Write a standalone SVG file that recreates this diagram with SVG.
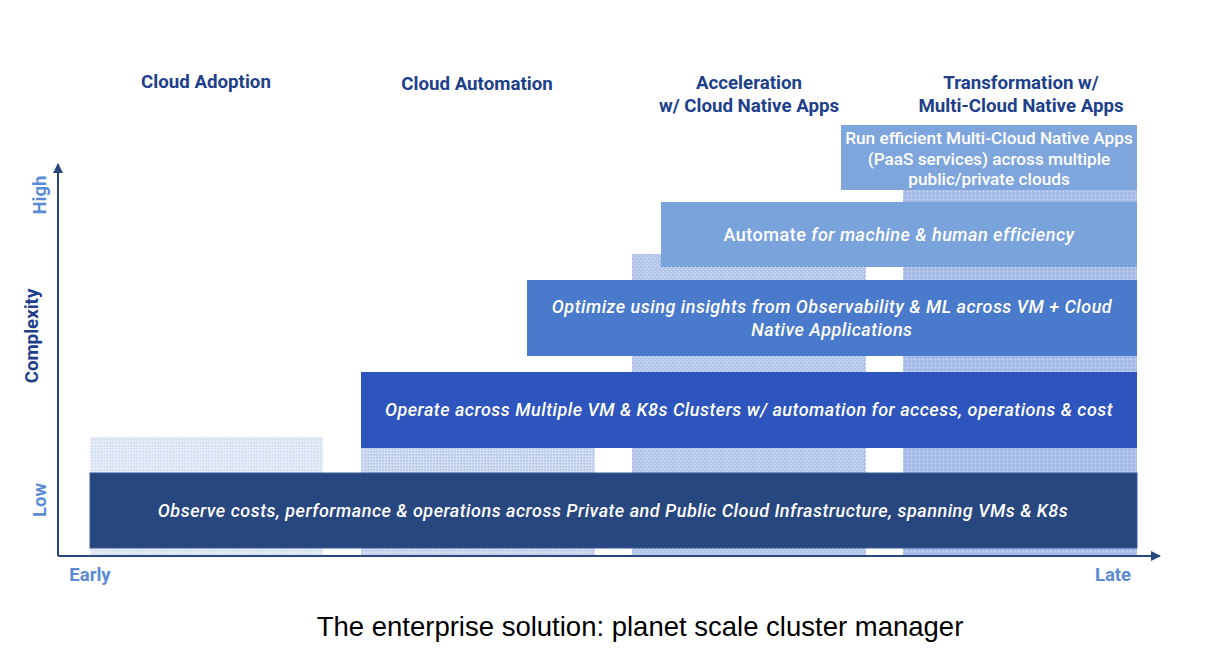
<svg xmlns="http://www.w3.org/2000/svg" width="1226" height="666" viewBox="0 0 1226 666">
<style>
.hdr{font-family:Roboto,"Liberation Sans",sans-serif;font-weight:700;font-size:18.7px;fill:#203f8a;text-anchor:middle}
.ax{font-family:Roboto,"Liberation Sans",sans-serif;font-weight:700;font-size:18.5px;fill:#5b8ad6;text-anchor:middle}
.bt{font-family:Roboto,"Liberation Sans",sans-serif;font-weight:500;font-style:italic;font-size:18px;letter-spacing:0.5px;fill:#ffffff;text-anchor:middle}
.bn{font-family:Roboto,"Liberation Sans",sans-serif;font-weight:500;font-size:17.2px;fill:#ffffff;text-anchor:middle}
.cap{font-family:"Liberation Sans",Arial,sans-serif;font-size:27.5px;fill:#000;text-anchor:middle}
</style>
<defs>
<pattern id="p1" width="3" height="3" patternUnits="userSpaceOnUse"><rect width="3" height="3" fill="#dfe7f6"/><rect x="0" y="0" width="1" height="1" fill="#f6f8fd"/><rect x="2" y="1" width="1" height="1" fill="#c9d7f0"/></pattern>
<pattern id="p2" width="3" height="3" patternUnits="userSpaceOnUse"><rect width="3" height="3" fill="#c7d5ef"/><rect x="0" y="0" width="1" height="1" fill="#eef2fb"/><rect x="2" y="1" width="1" height="1" fill="#aec3ea"/></pattern>
<pattern id="p3" width="4" height="4" patternUnits="userSpaceOnUse"><rect width="4" height="4" fill="#b1c5ec"/><rect x="1" y="1" width="1" height="1" fill="#eef3fc"/><rect x="3" y="3" width="1" height="1" fill="#dfe8f8"/></pattern>
<pattern id="p4" width="4" height="4" patternUnits="userSpaceOnUse"><rect width="4" height="4" fill="#a9bee8"/><rect x="1" y="1" width="1" height="1" fill="#8ea9de"/><rect x="3" y="3" width="1" height="1" fill="#d4e0f5"/></pattern>
<marker id="ah" viewBox="0 0 10 10" refX="9" refY="5" markerWidth="10" markerHeight="10" markerUnits="userSpaceOnUse" orient="auto"><path d="M0,0 L10,5 L0,10 Z" fill="#27477e"/></marker>
</defs>
<rect width="1226" height="666" fill="#ffffff"/>
<g id="columns">
<rect x="90" y="437" width="233" height="119" fill="url(#p1)"/>
<rect x="361" y="448" width="234" height="108" fill="url(#p2)"/>
<rect x="632" y="254" width="234" height="302" fill="url(#p3)"/>
<rect x="903" y="190" width="234" height="366" fill="url(#p4)"/>
</g>
<g id="headers">
<text class="hdr" x="206" y="88">Cloud Adoption</text>
<text class="hdr" x="477" y="90">Cloud Automation</text>
<text class="hdr" x="749" y="89">Acceleration</text>
<text class="hdr" x="749" y="112">w/ Cloud Native Apps</text>
<text class="hdr" x="1021" y="89">Transformation w/</text>
<text class="hdr" x="1021" y="112">Multi-Cloud Native Apps</text>
</g>
<g id="node-observe">
<rect x="90" y="473" width="1047" height="75" fill="#27477e" stroke="#3b5c99" stroke-width="1"/>
<text class="bt" x="613" y="517">Observe costs, performance &amp; operations across Private and Public Cloud Infrastructure, spanning  VMs &amp; K8s</text>
</g>
<g id="node-operate">
<rect x="361" y="372" width="776" height="76" fill="#2d55bd"/>
<text class="bt" x="749" y="416">Operate across Multiple VM &amp; K8s Clusters w/ automation for access, operations &amp; cost</text>
</g>
<g id="node-optimize">
<rect x="527" y="280" width="610" height="76" fill="#4a7acb"/>
<text class="bt" x="832" y="313">Optimize using insights from Observability &amp; ML across VM + Cloud</text>
<text class="bt" x="832" y="336">Native Applications</text>
</g>
<g id="node-automate">
<rect x="661" y="202" width="476" height="65" fill="#7aa3dc"/>
<text class="bt" x="899" y="241"><tspan font-style="normal">Automate</tspan> for machine &amp; human efficiency</text>
</g>
<g id="node-run">
<rect x="841" y="125" width="296" height="65" fill="#7fa5dd"/>
<text class="bn" x="989" y="144">Run efficient Multi-Cloud Native Apps</text>
<text class="bn" x="989" y="165">(PaaS services) across multiple</text>
<text class="bn" x="989" y="185">public/private clouds</text>
</g>
<g id="connectors">
<line x1="58" y1="556" x2="58" y2="164" stroke="#27477e" stroke-width="2" marker-end="url(#ah)"/>
<line x1="58" y1="556" x2="1160" y2="556" stroke="#27477e" stroke-width="2" marker-end="url(#ah)"/>
</g>
<g id="axis-labels">
<text class="ax" transform="translate(46,195) rotate(-90)">High</text>
<text class="hdr" transform="translate(38,336) rotate(-90)">Complexity</text>
<text class="ax" transform="translate(46,500) rotate(-90)">Low</text>
<text class="ax" x="90" y="581">Early</text>
<text class="ax" x="1113" y="581">Late</text>
</g>
<text class="cap" x="640" y="636">The enterprise solution: planet scale cluster manager</text>
</svg>
